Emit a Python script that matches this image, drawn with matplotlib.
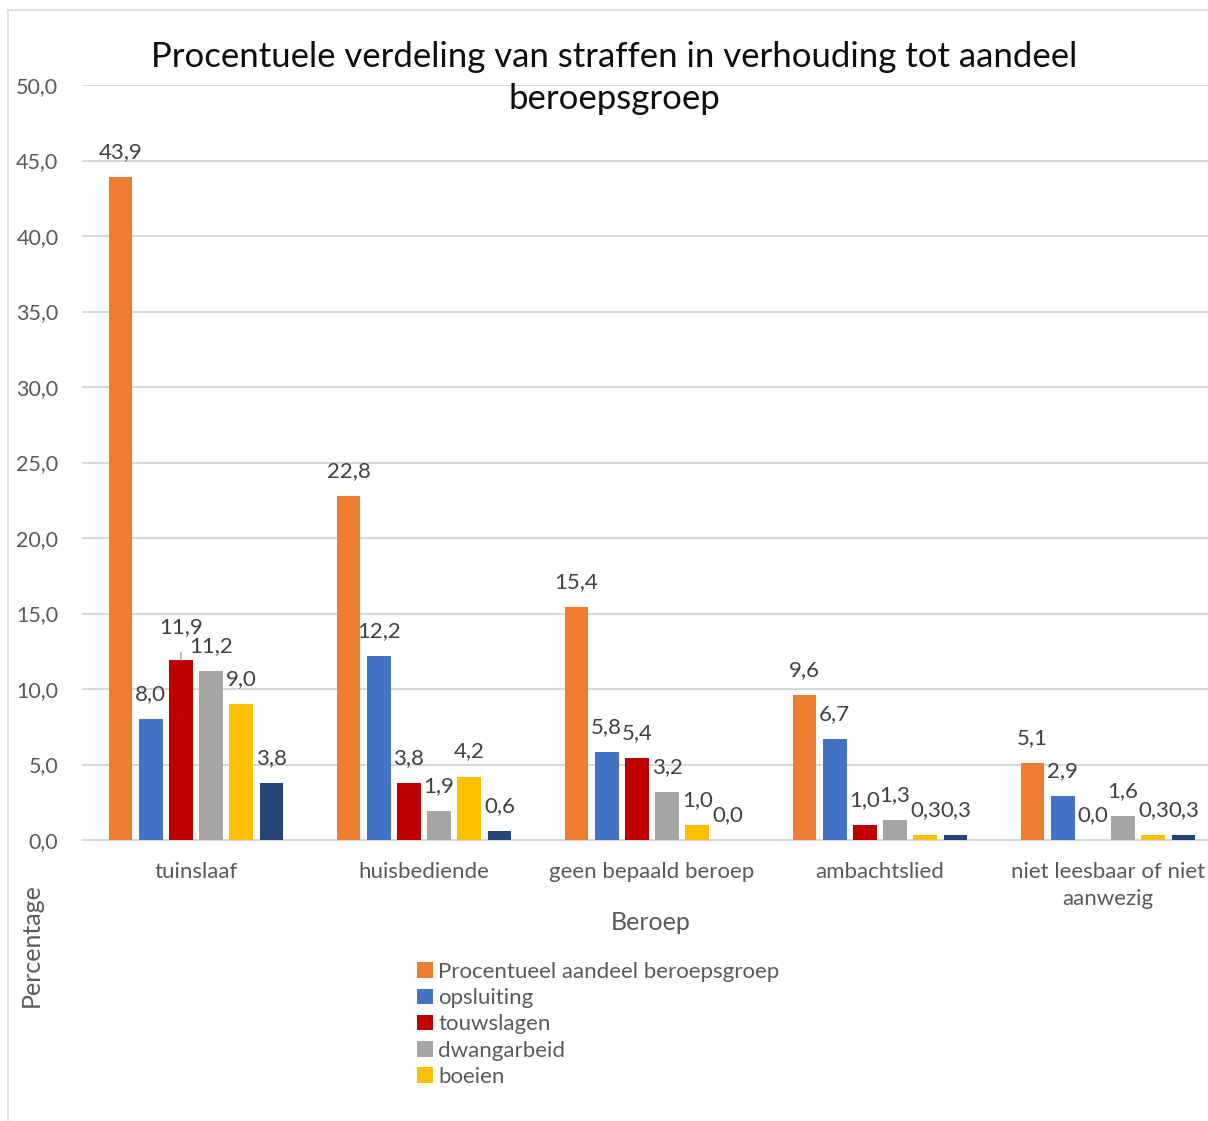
import numpy as np
import matplotlib.pyplot as plt
from matplotlib.lines import Line2D

plt.rcParams['font.family'] = ['Lato', 'DejaVu Sans']

categories = ['tuinslaaf', 'huisbediende', 'geen bepaald beroep', 'ambachtslied',
              'niet leesbaar of niet\naanwezig']
series_names = ['Procentueel aandeel beroepsgroep', 'opsluiting', 'touwslagen',
                'dwangarbeid', 'boeien', 'overig']
aandeel = [43.9, 22.8, 15.4, 9.6, 5.1]
opsluiting = [8.0, 12.2, 5.8, 6.7, 2.9]
touwslagen = [11.9, 3.8, 5.4, 1.0, 0.0]
dwangarbeid = [11.2, 1.9, 3.2, 1.3, 1.6]
boeien = [9.0, 4.2, 1.0, 0.3, 0.3]
overig = [3.8, 0.6, 0.0, 0.3, 0.3]
series = [aandeel, opsluiting, touwslagen, dwangarbeid, boeien, overig]
colors = ['#ED7D31', '#4472C4', '#C00000', '#A5A5A5', '#FFC000', '#264478']

W, H = 1208, 1121
fig = plt.figure(figsize=(W / 100, H / 100), dpi=100)
ax = fig.add_axes([82 / W, 1 - 840 / H, 1140 / W, 755 / H])

x = np.arange(len(categories))
pitch = 0.1325
bw = 0.105
bars = []
for i, (vals, col) in enumerate(zip(series, colors)):
    off = (i - 2.5) * pitch
    b = ax.bar(x + off, vals, bw, color=col, zorder=3)
    bars.append(b)
    for j, v in enumerate(vals):
        lbl = f'{v:.1f}'.replace('.', ',')
        if i == 2 and j == 0:
            # label lifted with leader line
            ax.annotate(lbl, (x[j] + off, v), xytext=(0, 24), textcoords='offset points',
                        ha='center', va='center', fontsize=16, color='#404040',
                        arrowprops=dict(arrowstyle='-', color='#A5A5A5', lw=1,
                                        shrinkA=9, shrinkB=0))
        else:
            ax.annotate(lbl, (x[j] + off, v), xytext=(0, 18), textcoords='offset points',
                        ha='center', va='center', fontsize=16, color='#404040')

ax.set_xlim(-0.5, len(categories) - 0.5)
ax.set_ylim(0, 50)
ax.set_yticks(np.arange(0, 50.1, 5))
ax.set_yticklabels([f'{t:.1f}'.replace('.', ',') for t in np.arange(0, 50.1, 5)])
ax.set_xticks(x)
ax.set_xticklabels(categories)
ax.tick_params(axis='y', length=0, pad=17, labelsize=15.5, labelcolor='#595959')
ax.tick_params(axis='x', length=0, pad=16, labelsize=16, labelcolor='#595959')
for t in ax.get_xticklabels():
    t.set_verticalalignment('top')
    t.set_linespacing(1.45)
ax.grid(axis='y', color='#D9D9D9', lw=1.5, zorder=0)
for s in ['top', 'right', 'left']:
    ax.spines[s].set_visible(False)
ax.spines['bottom'].set_color('#D9D9D9')
ax.spines['bottom'].set_linewidth(1.5)

fig.text(614 / W, 1 - 78 / H,
         'Procentuele verdeling van straffen in verhouding tot aandeel\nberoepsgroep',
         ha='center', va='center', fontsize=25, color='#0D0D0D', linespacing=1.4)
fig.text(651 / W, 1 - 922 / H, 'Beroep', ha='center', va='center', fontsize=18,
         color='#595959')
fig.text(31 / W, 1 - 945 / H, 'Percentage', ha='center', va='center', rotation=90,
         fontsize=18, color='#595959')

fig.legend([b for b in bars[:5]], series_names[:5], loc='upper left',
           bbox_to_anchor=(417 / W, 1 - 962 / H), frameon=False, fontsize=16,
           labelcolor='#595959', handlelength=0.7, handleheight=0.7,
           handletextpad=0.25, labelspacing=0.28, borderpad=0, borderaxespad=0)

fig.add_artist(Line2D([8 / W, 8 / W], [0, 1 - 10 / H], color='#D9D9D9', lw=1.2))
fig.add_artist(Line2D([8 / W, 1], [1 - 10 / H, 1 - 10 / H], color='#D9D9D9', lw=1.2))

fig.savefig('out.png', dpi=100)
